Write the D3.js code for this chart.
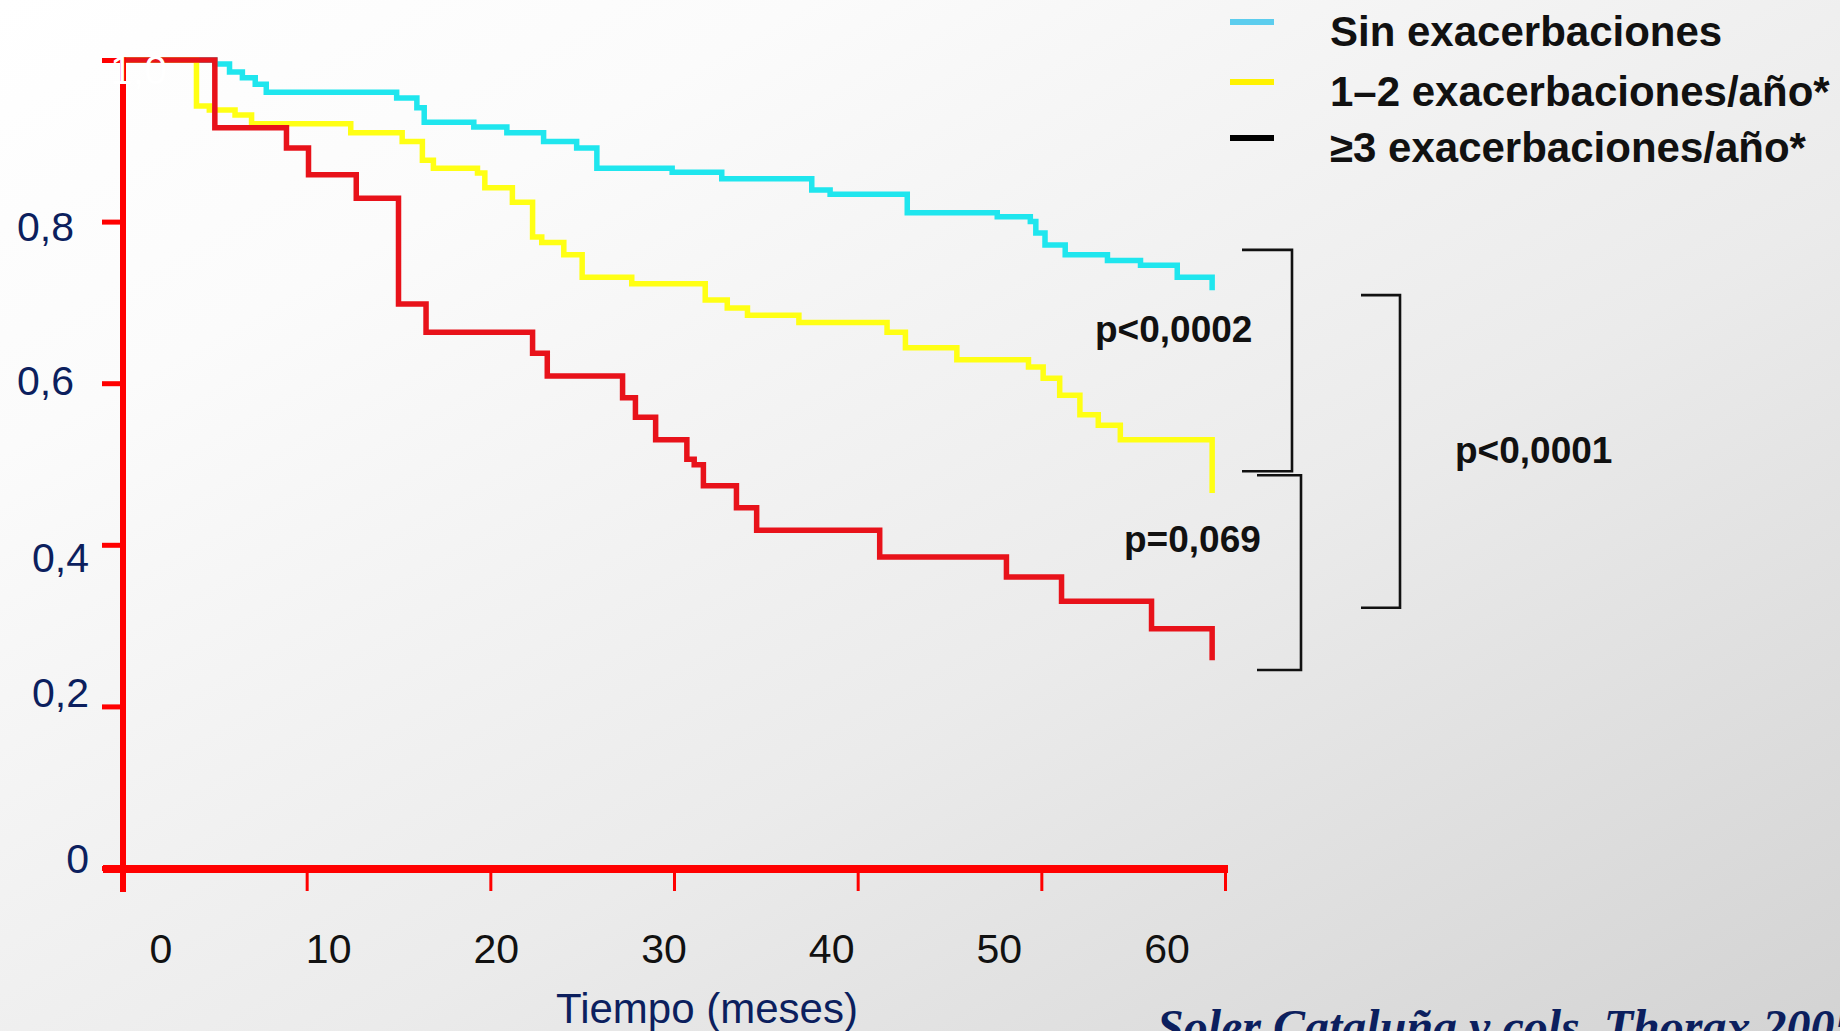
<!DOCTYPE html>
<html>
<head>
<meta charset="utf-8">
<script src="https://cdn.jsdelivr.net/npm/d3@7"></script>
<style>
  html, body { margin: 0; padding: 0; overflow: hidden; background: #fff; }
  svg { display: block; }
</style>
</head>
<body>
<svg id="chart" width="1840" height="1031"></svg>
<script>
// Kaplan–Meier survival by frequency of severe exacerbations.
// Each series: [month, cumulative survival after the step].
const seriesLabels = ["Sin exacerbaciones", "1–2 exacerbaciones/año*", "≥3 exacerbaciones/año*"];

const survivalNone = [
  [0, 1], [5.0, 0.995], [5.8, 0.985], [6.5, 0.978], [7.2, 0.970], [7.8, 0.960],
  [14.9, 0.953], [16.0, 0.941], [16.4, 0.923], [19.1, 0.917], [20.9, 0.910],
  [22.9, 0.899], [24.7, 0.891], [25.8, 0.866], [29.9, 0.861], [32.6, 0.853],
  [37.5, 0.839], [38.5, 0.834], [42.7, 0.811], [47.6, 0.806], [49.4, 0.800],
  [49.7, 0.786], [50.2, 0.771], [51.3, 0.759], [53.6, 0.752], [55.4, 0.746],
  [57.4, 0.731], [59.3, 0.715]
];

const survivalOneTwo = [
  [0, 1], [4.0, 0.943], [4.7, 0.938], [6.1, 0.932], [7.0, 0.921], [12.4, 0.910],
  [15.2, 0.899], [16.3, 0.876], [16.9, 0.866], [19.3, 0.860], [19.7, 0.842],
  [21.2, 0.824], [22.3, 0.781], [22.8, 0.774], [24.0, 0.759], [25.0, 0.731],
  [27.7, 0.723], [31.7, 0.703], [32.9, 0.693], [34.0, 0.684], [36.8, 0.675],
  [41.6, 0.663], [42.6, 0.644], [45.4, 0.629], [49.3, 0.620], [50.1, 0.606],
  [51.0, 0.585], [52.1, 0.561], [53.1, 0.548], [54.3, 0.530], [59.3, 0.464]
];

const survivalThreePlus = [
  [0, 1], [5.0, 0.916], [8.9, 0.891], [10.1, 0.858], [12.7, 0.829], [15.0, 0.698],
  [16.5, 0.663], [22.3, 0.637], [23.1, 0.609], [27.2, 0.582], [27.9, 0.558],
  [29.0, 0.530], [30.7, 0.506], [31.1, 0.499], [31.6, 0.473], [33.4, 0.446],
  [34.5, 0.418], [41.2, 0.385], [48.1, 0.360], [51.1, 0.330], [56.0, 0.296],
  [59.3, 0.257]
];

const xTicks = [0, 10, 20, 30, 40, 50, 60];
const xTickLabels = ["0", "10", "20", "30", "40", "50", "60"];
const yTicks = [0, 0.2, 0.4, 0.6, 0.8, 1.0];
const yTickLabels = ["0", "0,2", "0,4", "0,6", "0,8", "1,0"];

// Log-rank comparisons: label and the survival span each bracket covers
const pLabels = ["p<0,0002", "p=0,069", "p<0,0001"];
const pSpanTop = [0.765, 0.486, 0.709];
const pSpanBottom = [0.491, 0.245, 0.322];

const xTitle = "Tiempo (meses)";
const citation = "Soler Cataluña y cols. Thorax 2005";

// ---------- layout & style ----------
const W = 1840, H = 1031;
const FONT = "'Liberation Sans', Arial, Helvetica, sans-serif";
const NAVY = "#0c1f5e";
const curveColors = ["#1fe6ee", "#ffff14", "#e8121a"];
const swatchColors = ["#5ccdee", "#fff200", "#000000"];
const AXIS_RED = "#ff0000";

const svg = d3.select("#chart");

// soft diagonal background
const defs = svg.append("defs");
const bg = defs.append("linearGradient").attr("id", "bg")
  .attr("x1", 0).attr("y1", 0).attr("x2", 1).attr("y2", 1);
bg.append("stop").attr("offset", 0).attr("stop-color", "#ffffff");
bg.append("stop").attr("offset", 0.22).attr("stop-color", "#fbfbfb");
bg.append("stop").attr("offset", 0.6).attr("stop-color", "#ebebeb");
bg.append("stop").attr("offset", 1).attr("stop-color", "#d3d3d3");
svg.append("rect").attr("width", W).attr("height", H).attr("fill", "url(#bg)");

// scales
const x = d3.scaleLinear().domain([0, 60]).range([123, 1225]);
const y = d3.scaleLinear().domain([0, 1]).range([868, 60]);
// tick captions sit on their own, slightly tighter spacing
const xCaption = d3.scaleLinear().domain([0, 60]).range([161, 1167]);

// survival curves
const line = d3.line()
  .x(d => x(d[0]))
  .y(d => y(d[1]))
  .curve(d3.curveStepAfter);

const seriesData = [survivalNone, survivalOneTwo, survivalThreePlus];
svg.append("g").selectAll("path")
  .data(seriesData)
  .join("path")
  .attr("d", line)
  .attr("fill", "none")
  .attr("stroke", (d, i) => curveColors[i])
  .attr("stroke-width", 5.5)
  .attr("stroke-linejoin", "miter")
  .attr("stroke-linecap", "butt");

// x axis
const xAxisG = svg.append("g")
  .attr("transform", `translate(0,${y(0)})`)
  .call(d3.axisBottom(x).tickValues(xTicks).tickSize(23).tickSizeOuter(0).tickFormat(""));
xAxisG.select(".domain").remove();
xAxisG.selectAll(".tick line").attr("stroke", AXIS_RED).attr("stroke-width", 3);
xAxisG.append("line")
  .attr("x1", x(0) - 20).attr("x2", x(60) + 3)
  .attr("y1", 1).attr("y2", 1)
  .attr("stroke", AXIS_RED).attr("stroke-width", 8);

svg.append("g").selectAll("text")
  .data(xTicks)
  .join("text")
  .attr("x", d => xCaption(d))
  .attr("y", 963)
  .attr("text-anchor", "middle")
  .attr("font-family", FONT)
  .attr("font-size", 41)
  .attr("fill", "#111111")
  .text((d, i) => xTickLabels[i]);

// y axis
const yCaptionStyle = {
  "1":   { right: 167, dy: 9,  fill: "#ffffff" },
  "0.8": { right: 74,  dy: 5,  fill: NAVY },
  "0.6": { right: 74,  dy: -3, fill: NAVY },
  "0.4": { right: 89,  dy: 12, fill: NAVY },
  "0.2": { right: 89,  dy: -14, fill: NAVY },
  "0":   { right: 89,  dy: -10, fill: NAVY }
};

const yAxisG = svg.append("g")
  .attr("transform", `translate(${x(0)},0)`)
  .call(d3.axisLeft(y).tickValues(yTicks).tickSize(21).tickSizeOuter(0).tickFormat(""));
yAxisG.select(".domain").remove();
yAxisG.selectAll(".tick line").attr("stroke", AXIS_RED).attr("stroke-width", 5);
yAxisG.append("line")
  .attr("x1", 0).attr("x2", 0)
  .attr("y1", y(1) - 2.5).attr("y2", y(0) + 24)
  .attr("stroke", AXIS_RED).attr("stroke-width", 6);

svg.append("g").selectAll("text")
  .data(yTicks)
  .join("text")
  .attr("x", d => yCaptionStyle[String(d)].right)
  .attr("y", d => y(d) + yCaptionStyle[String(d)].dy + 14.7)
  .attr("text-anchor", "end")
  .attr("font-family", FONT)
  .attr("font-size", 41)
  .attr("fill", d => yCaptionStyle[String(d)].fill)
  .text((d, i) => yTickLabels[i]);

// axis title
svg.append("text")
  .attr("x", 707).attr("y", 1023)
  .attr("text-anchor", "middle")
  .attr("font-family", FONT)
  .attr("font-size", 42)
  .attr("fill", NAVY)
  .text(xTitle);

// legend
const legend = svg.append("g");
const legendRowY = [22, 82, 138];
legend.selectAll("line")
  .data(seriesLabels)
  .join("line")
  .attr("x1", 1230).attr("x2", 1274)
  .attr("y1", (d, i) => legendRowY[i]).attr("y2", (d, i) => legendRowY[i])
  .attr("stroke", (d, i) => swatchColors[i])
  .attr("stroke-width", 6);
legend.selectAll("text")
  .data(seriesLabels)
  .join("text")
  .attr("x", 1330)
  .attr("y", (d, i) => legendRowY[i] + 24)
  .attr("font-family", FONT)
  .attr("font-weight", "bold")
  .attr("font-size", 42)
  .attr("fill", "#111111")
  .text(d => d);

// comparison brackets with p-values
const bracketX = [[1242, 1292], [1257, 1301], [1361, 1400]];
const pLabelPos = [[1095, 342], [1124, 552], [1455, 463]];
const brackets = svg.append("g");
pLabels.forEach((lab, i) => {
  const [xa, xb] = bracketX[i];
  const y0 = y(pSpanTop[i]), y1 = y(pSpanBottom[i]);
  brackets.append("path")
    .attr("d", `M${xa},${y0}H${xb}V${y1}H${xa}`)
    .attr("fill", "none")
    .attr("stroke", "#111111")
    .attr("stroke-width", 2.6);
  brackets.append("text")
    .attr("x", pLabelPos[i][0]).attr("y", pLabelPos[i][1])
    .attr("font-family", FONT)
    .attr("font-weight", "bold")
    .attr("font-size", 37)
    .attr("fill", "#111111")
    .text(lab);
});

// source line, running off the lower-right edge
svg.append("text")
  .attr("x", 1157).attr("y", 1043)
  .attr("font-family", "'Liberation Serif', 'Times New Roman', serif")
  .attr("font-weight", "bold")
  .attr("font-style", "italic")
  .attr("font-size", 48)
  .attr("fill", NAVY)
  .text(citation);
</script>
</body>
</html>
